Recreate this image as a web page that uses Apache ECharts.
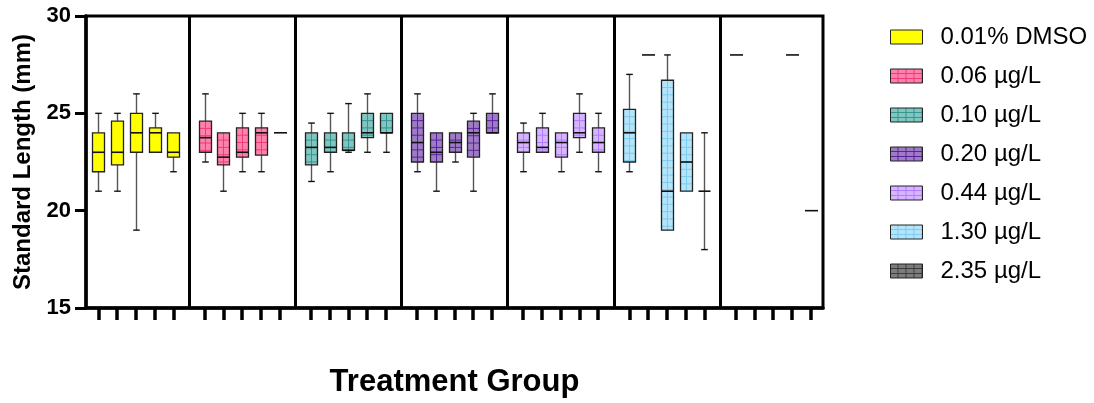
<!DOCTYPE html>
<html><head><meta charset="utf-8">
<script src="https://cdn.jsdelivr.net/npm/echarts@6/dist/echarts.min.js"></script>
<style>html,body{margin:0;padding:0;background:#fff}#c{width:1094px;height:403px}</style>
</head><body><div id="c"></div>
<script>
// ---- data ----
const groupNames = ['0.01% DMSO', '0.06 µg/L', '0.10 µg/L', '0.20 µg/L', '0.44 µg/L', '1.30 µg/L', '2.35 µg/L'];
// each box: [min, Q1, median, Q3, max]; null = no data
const dmso = [[21, 22, 23, 24, 25], [21, 22.35, 23, 24.6, 25], [19, 23, 24, 25, 26], [23, 23, 24, 24.25, 25], [22, 22.75, 23, 24, 24]];
const c006 = [[22.5, 23, 23.75, 24.6, 26], [21, 22.35, 22.75, 24, 24], [22, 22.75, 23, 24.25, 25], [22, 22.85, 24, 24.25, 25], [24, 24, 24, 24, 24]];
const c010 = [[21.5, 22.35, 23.25, 24, 24.5], [22, 23, 23.25, 24, 25], [23, 23.1, 23.1, 24, 25.5], [23, 23.75, 24, 25, 26], [23, 24, 24, 25, 25]];
const c020 = [[22, 22.5, 23.5, 25, 26], [21, 22.5, 23, 24, 24], [22.5, 23, 23.5, 24, 24], [21, 22.75, 24, 24.6, 25], [24, 24, 24, 25, 26]];
const c044 = [[22, 23, 23.5, 24, 24.5], [23, 23, 23.25, 24.25, 25], [22, 22.75, 23.5, 24, 24], [23, 23.75, 24, 25, 26], [22, 23, 23.5, 24.25, 25]];
const c130 = [[22, 22.5, 24, 25.2, 27], [28, 28, 28, 28, 28], [19, 19, 21, 26.7, 28], [21, 21, 22.5, 24, 24], [18, 21, 21, 21, 24]];
const c235 = [[28, 28, 28, 28, 28], null, null, [28, 28, 28, 28, 28], [20, 20, 20, 20, 20]];
const yTicks = [15, 20, 25, 30];
const groupData = [dmso, c006, c010, c020, c044, c130, c235];

// ---- styles ----
const fills = ['#FFFF00', '#FF80AC', '#80C5C0', '#9E7CC5', '#D7B4FF', '#B3E4FA', '#7C7C7C'];
const hatch = [null, '#EE3D7A', '#35958F', '#5A239E', '#B27CFF', '#7CCBF0', '#3C3C3C'];
const FONT = 'Liberation Sans, Arial, sans-serif';

// layout units: 3 units between boxes, 17 units between group starts
const STEP = 3, GROUP = 17;
const nCats = 6 * GROUP + 4 * STEP + 5; // -2 .. 116
const catData = Array.from({length: nCats}, (_, i) => String(i - 2));
function isBoxIdx(idx) {
  const u = idx - 2;
  if (u < 0) return false;
  const r = u % GROUP;
  return r <= 4 * STEP && r % STEP === 0;
}
const dividers = [];
for (let g = 0; g < 6; g++) dividers.push(g * GROUP + 4 * STEP + (GROUP - 4 * STEP) / 2);

function makePattern(g) {
  const cv = document.createElement('canvas');
  cv.width = 8; cv.height = 5;
  const ctx = cv.getContext('2d');
  ctx.fillStyle = fills[g]; ctx.fillRect(0, 0, 8, 5);
  ctx.strokeStyle = hatch[g]; ctx.lineWidth = 1;
  ctx.beginPath(); ctx.moveTo(7.5, 0); ctx.lineTo(7.5, 5); ctx.moveTo(0, 4.5); ctx.lineTo(8, 4.5); ctx.stroke();
  return {image: cv, repeat: 'repeat'};
}

function makeRender(g) {
  return function (params, api) {
    const x = api.value(0);
    const v = [1, 2, 3, 4, 5].map(d => api.value(d));
    const cx = Math.round(api.coord([x, v[2]])[0]) + 0.5;
    const py = v.map(val => api.coord([x, val])[1]);
    const hw = 6, cw = 3.3;
    const ch = [];
    if (v[0] === v[4]) {
      ch.push({type: 'line', shape: {x1: cx - 6.5, y1: py[2], x2: cx + 6.5, y2: py[2]}, style: {stroke: '#111', lineWidth: 1.6}});
      return {type: 'group', children: ch};
    }
    if (v[4] > v[3]) {
      ch.push({type: 'line', shape: {x1: cx, y1: py[4], x2: cx, y2: py[3]}, style: {stroke: '#555', lineWidth: 1.4}});
      ch.push({type: 'line', shape: {x1: cx - cw, y1: py[4], x2: cx + cw, y2: py[4]}, style: {stroke: '#111', lineWidth: 1.4}});
    }
    if (v[0] < v[1]) {
      ch.push({type: 'line', shape: {x1: cx, y1: py[1], x2: cx, y2: py[0]}, style: {stroke: '#555', lineWidth: 1.4}});
      ch.push({type: 'line', shape: {x1: cx - cw, y1: py[0], x2: cx + cw, y2: py[0]}, style: {stroke: '#111', lineWidth: 1.4}});
    }
    if (v[3] > v[1]) {
      const top = py[3], bot = py[1];
      ch.push({type: 'rect', shape: {x: cx - hw, y: top, width: 2 * hw, height: bot - top}, style: {fill: fills[g], stroke: null}});
      if (hatch[g]) {
        ch.push({type: 'line', shape: {x1: cx, y1: top, x2: cx, y2: bot}, style: {stroke: hatch[g], lineWidth: 1}});
        for (let yy = top + 7.3; yy < bot - 1; yy += 7.3) {
          ch.push({type: 'line', shape: {x1: cx - hw, y1: yy, x2: cx + hw, y2: yy}, style: {stroke: hatch[g], lineWidth: 1}});
        }
      }
      ch.push({type: 'rect', shape: {x: cx - hw, y: top, width: 2 * hw, height: bot - top}, style: {fill: null, stroke: '#222', lineWidth: 1.3}});
    }
    ch.push({type: 'line', shape: {x1: cx - hw, y1: py[2], x2: cx + hw, y2: py[2]}, style: {stroke: '#111', lineWidth: 1.6}});
    return {type: 'group', children: ch};
  };
}

const series = groupData.map((arr, g) => ({
  type: 'custom',
  name: groupNames[g],
  xAxisIndex: 0, yAxisIndex: 0,
  renderItem: makeRender(g),
  encode: {x: 0, y: [1, 2, 3, 4, 5]},
  itemStyle: {color: fills[g]},
  data: arr.map((b, i) => b ? [g * GROUP + i * STEP, ...b] : null).filter(Boolean),
  z: 3
}));
series.push({
  type: 'line', xAxisIndex: 0, yAxisIndex: 0, data: [], silent: true,
  markLine: {silent: true, symbol: ['none', 'none'], label: {show: false},
    lineStyle: {color: '#000', width: 3, type: 'solid'},
    data: dividers.map(d => ({xAxis: d}))}
});

const chart = echarts.init(document.getElementById('c'), null, {renderer: 'canvas'});
chart.setOption({
  animation: false,
  backgroundColor: '#fff',
  grid: {left: 86, right: 271, top: 16, bottom: 95, show: true, borderColor: '#000', borderWidth: 3, backgroundColor: 'transparent'},
  xAxis: [
    {type: 'value', min: -2, max: nCats - 3, show: false},
    {type: 'category', data: catData, boundaryGap: false, position: 'bottom',
      axisLine: {show: true, onZero: false, lineStyle: {color: '#000', width: 3.5}},
      axisTick: {show: true, length: 12, interval: (idx) => isBoxIdx(idx), lineStyle: {color: '#000', width: 3.5}},
      axisLabel: {show: false}, splitLine: {show: false},
      name: 'Treatment Group', nameLocation: 'middle', nameGap: 59,
      nameTextStyle: {fontFamily: FONT, fontWeight: 'bold', fontSize: 31, color: '#000'}}
  ],
  yAxis: {type: 'value', min: yTicks[0], max: yTicks[yTicks.length - 1], interval: 5,
    axisLine: {show: true, onZero: false, lineStyle: {color: '#000', width: 3.5}},
    axisTick: {show: true, length: 11, lineStyle: {color: '#000', width: 3}},
    axisLabel: {fontFamily: FONT, fontWeight: 'bold', fontSize: 22, color: '#000', margin: 15},
    splitLine: {show: false},
    name: 'Standard Length (mm)', nameLocation: 'middle', nameGap: 50, nameRotate: 90,
    nameTextStyle: {fontFamily: FONT, fontWeight: 'bold', fontSize: 24, color: '#000'}},
  legend: {orient: 'vertical', left: 885, top: 20, itemWidth: 32, itemHeight: 14, itemGap: 15, icon: 'rect',
    selectedMode: false,
    textStyle: {fontFamily: FONT, fontSize: 24, color: '#000', lineHeight: 24, padding: [0, 0, 0, 13]},
    data: groupNames.map((n, g) => ({name: n, itemStyle: {color: g === 0 ? fills[0] : makePattern(g), borderColor: '#222', borderWidth: 1}}))},
  series: series
});
</script></body></html>
